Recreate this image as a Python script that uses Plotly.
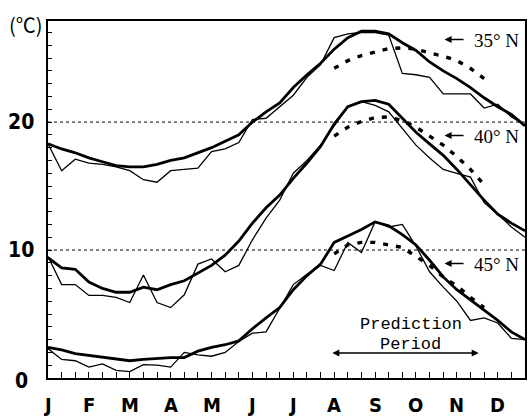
import plotly.graph_objects as go

# ---- data (dekad index 0..35 = 1st dekad Jan .. 3rd dekad Dec) ----
dekad = list(range(36))
pred_dekad = list(range(21, 33))
month_labels = ["J", "F", "M", "A", "M", "J", "J", "A", "S", "O", "N", "D"]
month_pos = [0, 3, 6, 9, 12, 15, 18, 21, 24, 27, 30, 33]
y_labels = ["0", "10", "20"]
y_label_vals = [0, 10, 20]

t35_normal = [18.3, 17.9, 17.6, 17.2, 16.9, 16.6, 16.5, 16.5, 16.7, 17.0, 17.2, 17.6,
              18.0, 18.5, 19.0, 20.0, 20.8, 21.5, 22.7, 23.7, 24.6, 25.7, 26.6, 27.1,
              27.1, 26.9, 26.2, 25.6, 24.7, 24.0, 23.4, 22.7, 21.9, 21.2, 20.6, 19.7]
t35_observed = [18.3, 16.2, 17.1, 16.8, 16.7, 16.5, 16.2, 15.5, 15.3, 16.2, 16.3, 16.4,
                17.7, 17.9, 18.4, 20.2, 20.3, 21.2, 22.1, 23.5, 24.5, 26.6, 26.9, 27.0,
                27.0, 26.8, 23.8, 23.7, 23.5, 22.2, 22.2, 22.2, 21.1, 21.4, 20.4, 19.8]
t35_predicted = [24.2, 24.8, 25.2, 25.5, 25.75, 25.8, 25.7, 25.4, 25.15, 24.8, 24.2, 23.4]

t40_normal = [9.4, 8.6, 8.5, 7.5, 7.0, 6.7, 6.7, 7.1, 6.9, 7.3, 7.6, 8.2,
              8.8, 9.6, 10.7, 12.1, 13.3, 14.3, 15.6, 16.8, 18.1, 19.85, 21.2, 21.6,
              21.7, 21.4, 20.3, 19.2, 18.3, 17.4, 16.3, 15.1, 13.9, 12.8, 12.1, 11.5]
t40_observed = [9.5, 7.3, 7.3, 6.45, 6.45, 6.3, 5.9, 8.05, 5.9, 5.5, 6.5, 8.9,
                9.3, 8.3, 8.8, 10.8, 12.5, 13.9, 16.0, 17.0, 18.2, 19.7, 21.2, 21.6,
                21.3, 20.8, 19.5, 18.2, 17.2, 16.3, 16.0, 15.7, 13.7, 12.8, 11.8, 11.0]
t40_predicted = [18.9, 19.6, 20.05, 20.35, 20.4, 20.1, 19.6, 18.9, 18.2, 17.3, 16.3, 15.1]

t45_normal = [2.4, 2.2, 1.9, 1.75, 1.6, 1.5, 1.35, 1.45, 1.55, 1.6, 1.6, 2.1,
              2.4, 2.6, 2.9, 3.85, 4.7, 5.5, 6.9, 8.0, 8.9, 10.6, 11.1, 11.6,
              12.2, 11.9, 11.2, 10.4, 9.2, 7.9, 6.9, 6.1, 5.3, 4.5, 3.6, 3.0]
t45_observed = [2.3, 1.45, 1.35, 0.85, 1.1, 0.6, 0.5, 1.05, 1.0, 0.85, 2.0, 1.8,
                1.7, 2.0, 2.85, 3.5, 3.6, 5.5, 7.3, 8.1, 8.8, 8.4, 10.6, 9.8,
                12.2, 11.8, 12.0, 10.3, 8.3, 7.1, 6.0, 4.5, 4.7, 4.3, 3.1, 3.0]
t45_predicted = [9.7, 10.4, 10.6, 10.6, 10.4, 10.2, 9.5, 8.8, 7.9, 7.2, 6.3, 5.5]

latitudes = ["35° N", "40° N", "45° N"]
lat_label_y = [26.4, 18.9, 8.9]

X_MAX = 35
Y_MAX = 27.9

# ---- figure ----
fig = go.Figure()
series = [
    (t35_normal, t35_observed, t35_predicted),
    (t40_normal, t40_observed, t40_predicted),
    (t45_normal, t45_observed, t45_predicted),
]
for normal, observed, predicted in series:
    fig.add_trace(go.Scatter(x=dekad, y=observed, mode="lines",
                             line=dict(color="black", width=1.3), showlegend=False))
    fig.add_trace(go.Scatter(x=dekad, y=normal, mode="lines",
                             line=dict(color="black", width=2.8), showlegend=False))
    fig.add_trace(go.Scatter(x=pred_dekad, y=predicted, mode="lines",
                             line=dict(color="black", width=3.4, dash="5px,8px"),
                             showlegend=False))

# reference dashed lines
for yv in [10, 20]:
    fig.add_shape(type="line", x0=0, x1=X_MAX, y0=yv, y1=yv, xref="x", yref="y",
                  line=dict(color="black", width=1, dash="3px,3px"), layer="below")

annotations = []
lab_font = dict(family="Liberation Sans Narrow, DejaVu Sans Condensed", size=20, color="black")
for lab, pos in zip(month_labels, month_pos):
    annotations.append(dict(x=pos / X_MAX, y=-0.075, xref="paper", yref="paper",
                            text="<b>%s</b>" % lab, showarrow=False, font=lab_font,
                            xanchor="center", yanchor="middle"))
for lab, val in zip(y_labels, y_label_vals):
    annotations.append(dict(x=-0.056, y=(val if val else -0.25) / Y_MAX,
                            xref="paper", yref="paper",
                            text="<b>%s</b>" % lab, showarrow=False,
                            font=dict(family="Liberation Sans Narrow, DejaVu Sans Condensed",
                                      size=21, color="black"),
                            xanchor="center", yanchor="middle"))
annotations.append(dict(x=-0.046, y=0.99, xref="paper", yref="paper", text="(℃)",
                        showarrow=False,
                        font=dict(family="Noto Sans CJK JP", size=20, color="black"),
                        xanchor="center", yanchor="middle"))

for lab, yv in zip(latitudes, lat_label_y):
    annotations.append(dict(x=31.1, y=yv, xref="x", yref="y", text=lab, showarrow=False,
                            font=dict(family="Liberation Serif", size=19, color="black"),
                            xanchor="left", yanchor="middle"))
    annotations.append(dict(x=29.1, y=yv + 0.05, xref="x", yref="y", ax=30.6, ay=yv + 0.05,
                            axref="x", ayref="y", text="", showarrow=True,
                            arrowhead=2, arrowsize=1, arrowwidth=1.4, arrowcolor="black"))

annotations.append(dict(x=26.6, y=4.15, xref="x", yref="y", text="Prediction", showarrow=False,
                        font=dict(family="Liberation Mono, DejaVu Sans Mono", size=17, color="black"),
                        xanchor="center", yanchor="middle"))
annotations.append(dict(x=26.6, y=2.6, xref="x", yref="y", text="Period", showarrow=False,
                        font=dict(family="Liberation Mono, DejaVu Sans Mono", size=17, color="black"),
                        xanchor="center", yanchor="middle"))
annotations.append(dict(x=31.6, y=1.95, xref="x", yref="y", ax=20.75, ay=1.95,
                        axref="x", ayref="y", text="", showarrow=True,
                        arrowhead=2, arrowside="end+start", arrowsize=1, arrowwidth=1.4,
                        arrowcolor="black"))

fig.update_layout(
    width=529, height=418,
    margin=dict(l=48, r=2, t=21, b=40),
    paper_bgcolor="white", plot_bgcolor="white",
    showlegend=False,
    annotations=annotations,
    xaxis=dict(range=[0, X_MAX], showgrid=False, zeroline=False, showline=True,
               linecolor="black", linewidth=2, mirror=True,
               tickvals=dekad, ticks="inside", ticklen=6, tickwidth=1.3,
               tickcolor="black", showticklabels=False),
    yaxis=dict(range=[0, Y_MAX], showgrid=False, zeroline=False, showline=True,
               linecolor="black", linewidth=2, mirror=True,
               dtick=1, tick0=0, ticks="inside", ticklen=4, tickwidth=1.3,
               tickcolor="black", showticklabels=False),
)

fig.write_html("out.html", config={"displayModeBar": False},
               post_script="document.body.style.margin='0';document.body.style.overflow='hidden';")
